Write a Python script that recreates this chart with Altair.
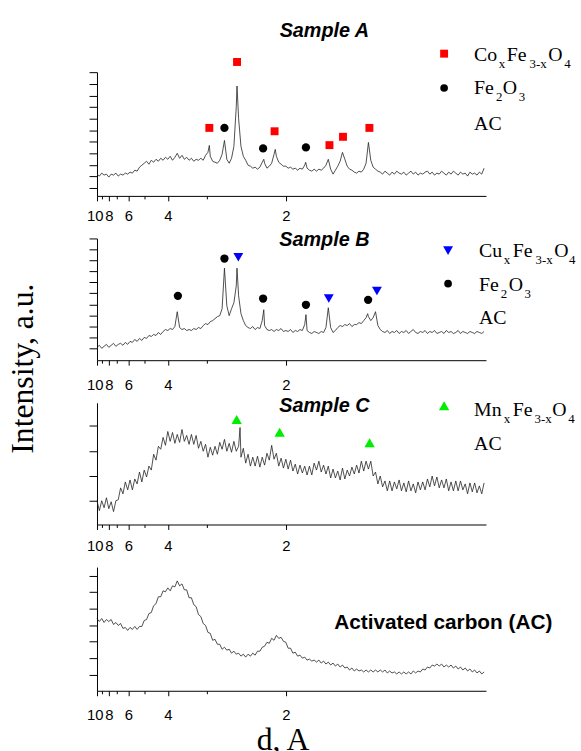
import altair as alt
import pandas as pd

# ---------------- data ----------------
# sampling grid along the x axis, reciprocal d-spacing 1/d (1/Angstrom)
Q_GRID = [round(0.100 + 0.005 * i, 3) for i in range(165)]

# Sample A intensity (a.u.) on Q_GRID
I_A = [22, 20, 23, 21, 22, 19, 22, 21, 23, 20,
       22, 21, 23, 22, 24, 23, 26, 25, 29, 31,
       33, 35, 32, 36, 34, 37, 35, 38, 36, 39,
       37, 40, 36, 39, 43, 38, 41, 37, 39, 36,
       38, 35, 37, 36, 38, 36, 41, 44, 40, 35,
       34, 33, 36, 42, 56, 37, 33, 38, 50, 90,
       78, 50, 40, 36, 31, 30, 28, 29, 27, 29,
       34, 33, 28, 30, 33, 42, 40, 34, 32, 30,
       30, 28, 29, 27, 28, 26, 28, 27, 31, 28,
       26, 25, 27, 25, 27, 26, 28, 31, 37, 27,
       22, 26, 30, 35, 44, 37, 30, 27, 26, 24,
       23, 25, 24, 27, 33, 54, 36, 29, 27, 25,
       24, 22, 25, 23, 21, 24, 22, 25, 23, 22,
       24, 21, 23, 25, 22, 24, 21, 23, 22, 24,
       25, 22, 24, 21, 23, 22, 25, 23, 21, 24,
       22, 25, 23, 21, 24, 22, 23, 20, 24, 22,
       23, 21, 24, 22, 28]
PEAK_A_Q = [0.338, 0.3966, 0.4533, 0.4776, 0.542]
PEAK_A_I = [51, 111, 37, 47, 34]

# Sample B
I_B = [13, 15, 12, 14, 16, 13, 15, 17, 14, 16,
       17, 15, 18, 16, 19, 18, 21, 19, 22, 20,
       23, 22, 25, 24, 26, 25, 28, 26, 29, 31,
       30, 32, 31, 34, 49, 33, 31, 32, 30, 31,
       30, 32, 31, 33, 32, 35, 37, 36, 39, 40,
       42, 44, 45, 52, 93, 55, 45, 52, 58, 75,
       65, 47, 40, 35, 33, 32, 34, 31, 33, 32,
       40, 35, 31, 30, 31, 29, 31, 30, 32, 29,
       30, 29, 31, 28, 30, 29, 31, 30, 36, 30,
       28, 27, 29, 28, 27, 29, 28, 33, 53, 33,
       28, 30, 33, 35, 34, 36, 35, 37, 34, 36,
       36, 38, 37, 40, 43, 44, 40, 43, 49, 35,
       31, 29, 28, 30, 27, 29, 28, 30, 27, 29,
       28, 30, 27, 29, 31, 28, 27, 29, 28, 30,
       27, 29, 28, 30, 27, 28, 29, 27, 30, 28,
       29, 27, 28, 30, 27, 29, 28, 27, 29, 28,
       27, 29, 28, 27, 29]
PEAK_B_Q = [0.3966, 0.4533, 0.5427, 0.6734]
PEAK_B_I = [93, 51, 46, 47]

# Sample C
I_C = [24, 14, 24, 17, 27, 16, 23, 13, 24, 25,
       37, 31, 43, 35, 45, 35, 46, 41, 53, 43,
       55, 48, 59, 55, 71, 65, 79, 76, 88, 80,
       94, 84, 93, 82, 91, 83, 96, 84, 90, 81,
       91, 81, 90, 77, 84, 74, 81, 68, 78, 70,
       79, 71, 83, 76, 86, 74, 82, 73, 84, 74,
       79, 68, 77, 62, 71, 59, 68, 59, 69, 58,
       68, 60, 72, 65, 80, 66, 72, 59, 67, 57,
       66, 56, 65, 54, 61, 51, 60, 52, 59, 50,
       59, 50, 62, 55, 64, 53, 60, 51, 59, 47,
       56, 47, 54, 45, 57, 46, 55, 49, 58, 51,
       60, 52, 64, 54, 64, 56, 64, 49, 53, 41,
       49, 38, 44, 34, 44, 34, 43, 36, 45, 34,
       42, 33, 44, 34, 41, 32, 43, 35, 43, 35,
       46, 38, 49, 39, 48, 37, 45, 37, 46, 34,
       43, 34, 44, 34, 44, 35, 41, 31, 42, 33,
       42, 32, 39, 31, 42]
PEAK_C_Q = [0.403]
PEAK_C_I = [98]

# Activated carbon
I_D = [73, 70, 73, 69, 72, 70, 72, 67, 69, 66,
       68, 63, 64, 61, 64, 62, 65, 62, 65, 65,
       71, 72, 78, 79, 86, 88, 95, 95, 101, 100,
       104, 101, 106, 105, 111, 106, 108, 102, 102, 94,
       94, 87, 85, 77, 75, 68, 66, 59, 58, 51,
       52, 47, 47, 42, 44, 41, 42, 38, 40, 37,
       38, 35, 37, 34, 37, 35, 38, 36, 40, 40,
       44, 45, 49, 48, 53, 51, 56, 53, 54, 50,
       49, 43, 43, 38, 39, 35, 36, 33, 34, 31,
       32, 30, 31, 29, 31, 28, 30, 27, 29, 26,
       28, 25, 27, 24, 26, 23, 24, 21, 23, 20,
       22, 20, 21, 19, 21, 19, 21, 19, 21, 19,
       21, 19, 21, 18, 20, 18, 19, 17, 19, 17,
       19, 17, 19, 17, 20, 18, 20, 19, 22, 21,
       24, 23, 26, 25, 27, 25, 27, 24, 26, 24,
       26, 23, 25, 22, 24, 21, 23, 20, 22, 19,
       21, 18, 20, 17, 19]

# phase reflections: d-spacing (Angstrom) and marker height (a.u.)
A_SPINEL_D = [2.959, 2.521, 2.100, 1.688, 1.610, 1.477]
A_SPINEL_H = [68.7, 135.3, 65.3, 51.3, 59.7, 68.7]
A_HEM_D = [2.703, 2.213, 1.843]
A_HEM_H = [68.7, 48, 49]
B_HEM_D = [3.685, 2.703, 2.213, 1.843, 1.483]
B_HEM_H = [65, 102.7, 62.3, 56, 61]
B_SPINEL_D = [2.504, 1.692, 1.443]
B_SPINEL_H = [104, 62.3, 70]
C_SPINEL_D = [2.526, 2.054, 1.476]
C_SPINEL_H = [106, 93.3, 82.7]

# axis ticks
X_TICK_D = [10, 9, 8, 7, 6, 5, 4, 3, 2]
Y_TICKS_A = [8, 19.67, 31.33, 43, 54.67, 66.33, 78, 89.67, 101.33, 113, 124.67]
Y_TICKS_B = [11.7, 22.9, 34.0, 45.2, 56.4, 67.5, 78.7, 89.9, 101.1, 112.2, 123]
Y_TICKS_C = [24.5, 49.5, 74.5, 99.5]
Y_TICKS_D = [16.3, 33, 49.7, 66.3, 83, 99.7, 116.3]

# ---------------- styling ----------------
SERIF = "Liberation Serif"
SANS = "Liberation Sans"
W = 393
RED, BLUE, GREEN = "#ff0000", "#0000ff", "#00ee00"
ONE = pd.DataFrame({"k": [0]})
X_TICK_Q = [1.0 / d for d in X_TICK_D]
MAJOR = "round(1/datum.value) % 2 == 0"


def x_axis(pad, title=None):
    kw = dict(
        values=X_TICK_Q,
        labelExpr=MAJOR + " ? format(1/datum.value, 'd') : ''",
        tickSize={"condition": {"test": MAJOR, "value": 5}, "value": 3},
        labelAlign={"condition": {"test": "datum.value < 0.105", "value": "right"}, "value": "center"},
        labelOffset={"condition": {"test": "datum.value < 0.105", "value": 6}, "value": 0},
        labelOverlap=False, labelFlush=False, labelBound=False,
        labelFont=SANS, labelFontSize=15, labelColor="black", labelPadding=pad,
        domainColor="black", domainWidth=1, tickColor="black", tickWidth=1,
        grid=False,
    )
    if title:
        kw.update(title=title, titleFont=SERIF, titleFontSize=32, titleFontWeight="normal",
                  titleColor="black", titleX=187.5, titleY=59, titleAlign="center",
                  titleBaseline="alphabetic", titleAnchor="middle")
    else:
        kw.update(title=None)
    return alt.Axis(**kw)


def y_axis(ticks, title=None):
    kw = dict(values=ticks, labels=False, tickSize=8, tickColor="black", tickWidth=1,
              domainColor="black", domainWidth=1, grid=False)
    if title:
        kw.update(title=title, titleFont=SERIF, titleFontSize=32, titleFontWeight="normal",
                  titleColor="black", titleAngle=270, titleX=-65, titleY=131,
                  titleAlign="center", titleBaseline="alphabetic")
    else:
        kw.update(title=None)
    return alt.Axis(**kw)


def text(t, x, y, size=20, font=SERIF, style="normal", weight="normal", align="left"):
    return alt.Chart(ONE).mark_text(
        text=t, font=font, fontSize=size, fontStyle=style, fontWeight=weight,
        align=align, baseline="alphabetic", color="black"
    ).encode(x=alt.value(x), y=alt.value(y))


def formula(parts, y):
    return [text(t, x, y + (7 if sub else 0), size=13 if sub else 20) for t, sub, x in parts]


def legend_symbol(shape, color, size, x, y):
    return alt.Chart(ONE).mark_point(shape=shape, filled=True, color=color, size=size,
                                     opacity=1, strokeWidth=0).encode(
        x=alt.value(x), y=alt.value(y))


def panel(inten, peak_q, peak_i, height, yticks, markers, extra, pad,
          xtitle=None, ytitle=None):
    xs = alt.Scale(domain=[0.1, 0.924], nice=False, zero=False)
    ys = alt.Scale(domain=[0, height], nice=False, zero=False)
    xenc = alt.X("q:Q", scale=xs, axis=x_axis(pad, xtitle))
    yenc = alt.Y("I:Q", scale=ys, axis=y_axis(yticks, ytitle))
    df = pd.DataFrame({"q": Q_GRID + peak_q, "I": inten + peak_i}).sort_values("q")
    layers = [alt.Chart(df).mark_line(color="#222222", strokeWidth=0.8).encode(x=xenc, y=yenc)]
    for d_vals, h_vals, shape, color, size in markers:
        mdf = pd.DataFrame({"d": d_vals, "I": h_vals})
        layers.append(
            alt.Chart(mdf).transform_calculate(q="1/datum.d").mark_point(
                shape=shape, filled=True, color=color, size=size, opacity=1, strokeWidth=0
            ).encode(x=xenc, y=yenc)
        )
    layers += extra
    return alt.layer(*layers).properties(width=W, height=height)


pA = panel(I_A, PEAK_A_Q, PEAK_A_I, 125, Y_TICKS_A,
           [(A_SPINEL_D, A_SPINEL_H, "square", RED, 64),
            (A_HEM_D, A_HEM_H, "circle", "black", 70)],
           [text("Sample A", 229.7, -35.5, font=SANS, style="italic", weight="bold", align="center"),
            legend_symbol("square", RED, 64, 350.7, -18.7),
            legend_symbol("circle", "black", 60, 350.7, 16)]
           + formula([("Co", 0, 381), ("x", 1, 406), ("Fe", 0, 414), ("3-x", 1, 437),
                      ("O", 0, 456), ("4", 1, 472)], -11)
           + formula([("Fe", 0, 381), ("2", 1, 403), ("O", 0, 410), ("3", 1, 426)], 22)
           + [text("AC", 381, 58)],
           pad=8)

pB = panel(I_B, PEAK_B_Q, PEAK_B_I, 123, Y_TICKS_B,
           [(B_HEM_D, B_HEM_H, "circle", "black", 70),
            (B_SPINEL_D, B_SPINEL_H, "triangle-down", BLUE, 100)],
           [text("Sample B", 229.7, 7.3, font=SANS, style="italic", weight="bold", align="center"),
            legend_symbol("triangle-down", BLUE, 100, 354.7, 12.3),
            legend_symbol("circle", "black", 60, 354.7, 45.7)]
           + formula([("Cu", 0, 386), ("x", 1, 411), ("Fe", 0, 420), ("3-x", 1, 443),
                      ("O", 0, 462), ("4", 1, 477)], 19)
           + formula([("Fe", 0, 386), ("2", 1, 408), ("O", 0, 416), ("3", 1, 432)], 53.3)
           + [text("AC", 386, 86.7)],
           pad=13, ytitle="Intensity, a.u.")

pC = panel(I_C, PEAK_C_Q, PEAK_C_I, 123, Y_TICKS_C,
           [(C_SPINEL_D, C_SPINEL_H, "triangle-up", GREEN, 110)],
           [text("Sample C", 229.7, 9.7, font=SANS, style="italic", weight="bold", align="center"),
            legend_symbol("triangle-up", GREEN, 110, 350.7, 3)]
           + formula([("Mn", 0, 381), ("x", 1, 411), ("Fe", 0, 420), ("3-x", 1, 442),
                      ("O", 0, 460), ("4", 1, 476)], 13)
           + [text("AC", 381, 47.3)],
           pad=9)

pD = panel(I_D, [], [], 125, Y_TICKS_D, [],
           [text("Activated carbon (AC)", 239.7, 63, size=21, font=SANS, weight="bold")],
           pad=12, xtitle="d, A")

chart = alt.vconcat(pA, pB, pC, pD, spacing=43, bounds="flush").properties(
    padding={"left": 7, "top": 17, "right": 5, "bottom": 0},
    background="white",
).configure_view(stroke=None)

chart.save("out.html", embed_options={"renderer": "svg", "actions": False})
